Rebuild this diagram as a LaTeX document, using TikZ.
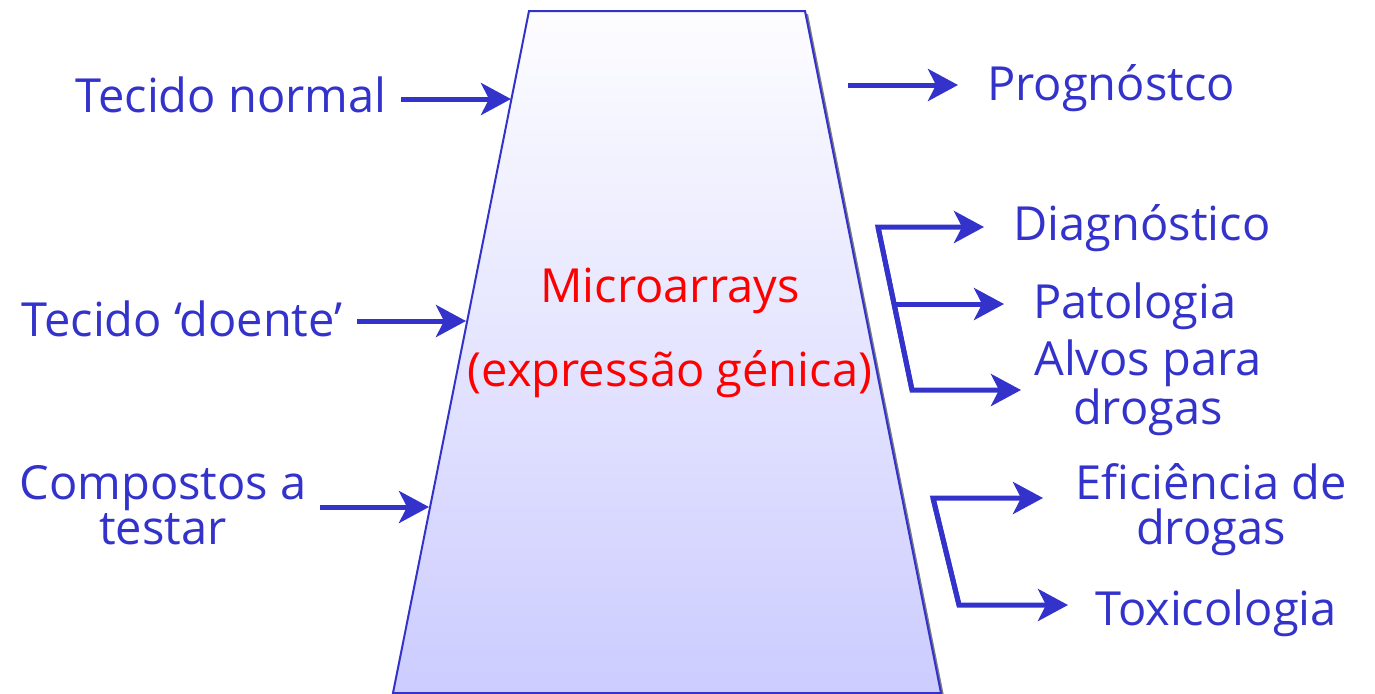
\documentclass[tikz,border=0pt]{standalone}
\usepackage{fontspec}
\setmainfont{Open Sans}
\usetikzlibrary{arrows.meta,calc}
\definecolor{tblue}{RGB}{51,51,204}
\definecolor{tred}{RGB}{255,0,0}
\definecolor{traptop}{RGB}{253,253,255}
\definecolor{trapbot}{RGB}{204,204,255}
\definecolor{shadowgray}{RGB}{128,128,128}
\begin{document}
\begin{tikzpicture}[x=0.5pt,y=-0.5pt,
  lbl/.style={text=tblue, font=\fontsize{23.5}{22.5}\selectfont, inner sep=0pt, align=center, anchor=base},
  red lbl/.style={text=tred, font=\fontsize{23.5}{42}\selectfont, inner sep=0pt, align=center, anchor=base},
  arr/.style={draw=tblue, line width=2.5pt, line join=miter, -{Stealth[length=15pt,width=16pt,inset=4pt]}},
  trap/.style={top color=traptop, bottom color=trapbot, draw=tblue, line width=1pt},
  trapshadow/.style={fill=shadowgray}]
\useasboundingbox (0,0) rectangle (1375,693);
% trapezoid corners
\coordinate (tl) at (529,11);
\coordinate (tr) at (805,11);
\coordinate (bl) at (393,693);
\coordinate (br) at (941,693);
\fill[trapshadow] ($(tl)+(3,3)$) -- ($(tr)+(3,3)$) -- ($(br)+(3,3)$) -- ($(bl)+(3,3)$) -- cycle;
\shade[trap] (tl) -- (tr) -- (br) -- (bl) -- cycle;
\node[red lbl] (mi) at (670,386) {Microarrays\\(expressão génica)};
% left labels
\node[lbl] (tn) at (231,112) {Tecido normal};
\node[lbl] (td) at (182,336) {Tecido ‘doente’};
\node[lbl] (tc) at (163,544) {Compostos a\\testar};
% right labels
\node[lbl] (pg) at (1111,100) {Prognóstco};
\node[lbl] (dg) at (1142,240) {Diagnóstico};
\node[lbl] (pt) at (1135,318) {Patologia};
\node[lbl] (av) at (1148,424) {Alvos para\\drogas};
\node[lbl] (ef) at (1211,544) {Eficiência de\\drogas};
\node[lbl] (tx) at (1216,625) {Toxicologia};
% arrow coordinates
\coordinate (a1s) at (401,99);  \coordinate (a1e) at (511,99);
\coordinate (a2s) at (357,321); \coordinate (a2e) at (466,321);
\coordinate (a3s) at (320,507); \coordinate (a3e) at (429,507);
\coordinate (a4s) at (848,85);  \coordinate (a4e) at (958,85);
\coordinate (c1) at (878,227); \coordinate (c2) at (912,390);
\coordinate (m1) at (894,304);
\coordinate (d1e) at (984,227); \coordinate (d2e) at (1004,304); \coordinate (d3e) at (1021,390);
\coordinate (c3) at (933,498); \coordinate (c4) at (959,605);
\coordinate (e1) at (1043,498); \coordinate (e2) at (1068,605);
% arrows
\draw[arr] (a1s) -- (a1e);
\draw[arr] (a2s) -- (a2e);
\draw[arr] (a3s) -- (a3e);
\draw[arr] (a4s) -- (a4e);
\draw[arr] (c2) -- (c1) -- (d1e);
\draw[arr] (m1) -- (d2e);
\draw[arr] (c1) -- (c2) -- (d3e);
\draw[arr] (c4) -- (c3) -- (e1);
\draw[arr] (c3) -- (c4) -- (e2);
\end{tikzpicture}
\end{document}
